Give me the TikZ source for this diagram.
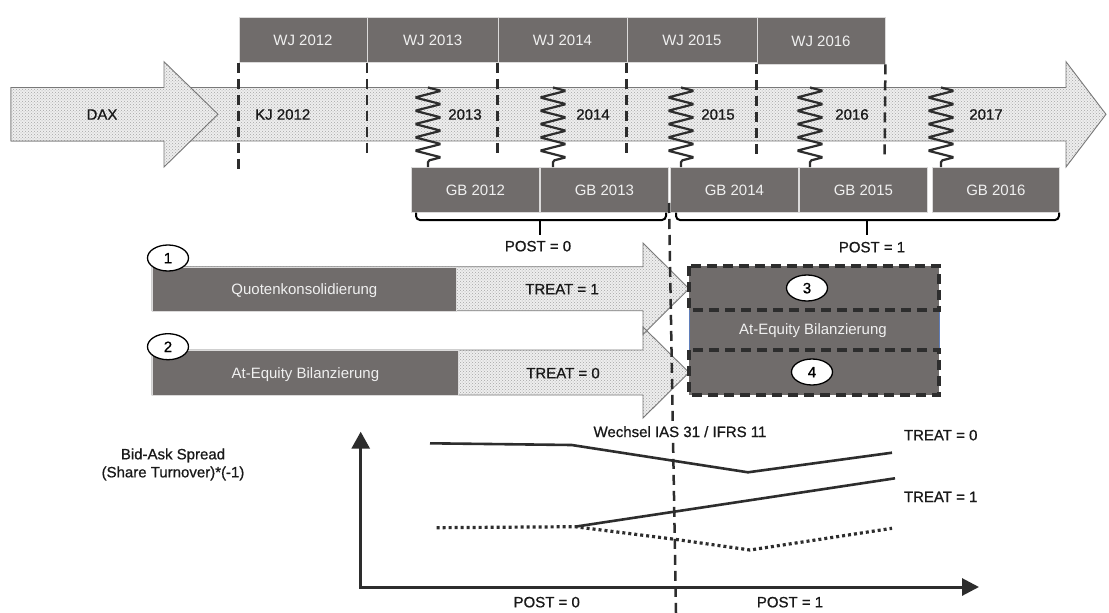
\documentclass[tikz,border=0pt]{standalone}
\usepackage{fontspec}
\setmainfont{Liberation Sans}
\newfontfamily\heavyfont[FakeBold=0.8]{Liberation Sans}
\usetikzlibrary{patterns,decorations.pathmorphing,arrows.meta,shapes.geometric}
\definecolor{boxgray}{RGB}{112,108,107}
\definecolor{darkline}{RGB}{45,45,45}
\definecolor{patbg}{RGB}{238,238,238}
\definecolor{patdot}{RGB}{165,165,165}
\definecolor{outl}{RGB}{120,120,120}
\definecolor{boxtext}{RGB}{240,240,240}
\definecolor{edgeblue}{RGB}{95,125,185}
\definecolor{txt}{RGB}{25,25,25}
\begin{document}
\begin{tikzpicture}[x=1pt,y=-1pt,
 every node/.style={font=\fontsize{15}{17}\selectfont, inner sep=0pt, text height=10.7pt, text depth=0pt},
 darkbox/.style={fill=boxgray, draw=white!75!boxgray, line width=0.8pt, text=boxtext, anchor=north west},
 dotfill/.style={fill=patbg, postaction={pattern=crosshatch dots, pattern color=patdot}},
 outline/.style={draw=outl, line width=0.9pt},
 vdash/.style={draw=darkline, line width=2.5pt, dash pattern=on 10pt off 6pt},
 spring/.style={draw=darkline, line width=2.2pt, decorate, decoration={zigzag, segment length=13.3pt, amplitude=13pt}, rounded corners=1.5pt},
 brace/.style={draw=black, line width=2pt, rounded corners=4pt},
 marker/.style={ellipse, draw=black, fill=white, line width=1.3pt, minimum width=41pt, minimum height=26pt, text=black, font=\fontsize{15}{17}\heavyfont},
 curve/.style={draw=darkline, line width=2.6pt},
 dotcurve/.style={draw=darkline, line width=3.2pt, dash pattern=on 3pt off 3pt},
 axis/.style={draw=darkline, line width=3pt},
 lbl/.style={text=txt, font=\fontsize{15}{17}\heavyfont},
 dashbox/.style={draw=darkline, line width=4pt, dash pattern=on 10pt off 6pt}
]
\useasboundingbox (0,0) rectangle (1109,613);
\fill[white] (0,0) rectangle (1109,613);

% ---- timeline band arrow
\path[dotfill] (11,87.5) -- (1066,87.5) -- (1066,61.7) -- (1106,114.3) -- (1066,167) -- (1066,141) -- (11,141) -- cycle;
\draw[outline] (11,87.5) -- (1066,87.5) -- (1066,61.7) -- (1106,114.3) -- (1066,167) -- (1066,141) -- (11,141) -- cycle;
% ---- DAX arrow
\path[dotfill] (11,87.5) -- (164,87.5) -- (164,61.7) -- (218,114.3) -- (164,167) -- (164,141) -- (11,141) -- cycle;
\draw[outline] (11,87.5) -- (164,87.5) -- (164,61.7) -- (218,114.3) -- (164,167) -- (164,141) -- (11,141) -- cycle;
\node[lbl] (dax) at (102,114.3) {DAX};

% ---- WJ boxes
\node[darkbox, minimum width=128pt, minimum height=45pt] (wj12) at (238.6,17) {WJ 2012};
\node[darkbox, minimum width=130.5pt, minimum height=45pt] (wj13) at (367,17) {WJ 2013};
\node[darkbox, minimum width=129pt, minimum height=45pt] (wj14) at (497.5,17) {WJ 2014};
\node[darkbox, minimum width=130pt, minimum height=45pt] (wj15) at (626.5,17) {WJ 2015};
\node[darkbox, minimum width=128pt, minimum height=46.5pt] (wj16) at (756.6,17) {WJ 2016};

% ---- dashed period separators
\draw[vdash] (wj12.south west) -- (238.6,170);
\draw[vdash] (wj13.south west) -- (367,157);
\draw[vdash] (wj14.south west) -- (497.5,157);
\draw[vdash] (wj15.south west) -- (626.5,157);
\draw[vdash] (wj16.south west) -- (756.6,157);
\draw[vdash] (wj16.south east) -- (884.6,157);

% ---- GB boxes
\node[darkbox, minimum width=128pt, minimum height=45pt] (gb12) at (411,167) {GB 2012};
\node[darkbox, minimum width=128pt, minimum height=45pt] (gb13) at (540,167) {GB 2013};
\node[darkbox, minimum width=128pt, minimum height=45pt] (gb14) at (670,167) {GB 2014};
\node[darkbox, minimum width=128pt, minimum height=45pt] (gb15) at (799,167) {GB 2015};
\node[darkbox, minimum width=127pt, minimum height=45pt] (gb16) at (932,167) {GB 2016};

% ---- springs
\coordinate (s13) at (428,87.5);
\coordinate (s14) at (553,87.5);
\coordinate (s15) at (681,87.5);
\coordinate (s16) at (810,87.5);
\coordinate (s17) at (941,87.5);
\draw[spring] (s13) -- (428,167);
\draw[spring] (s14) -- (553,167);
\draw[spring] (s15) -- (681,167);
\draw[spring] (s16) -- (810,167);
\draw[spring] (s17) -- (941,167);

\node[lbl, anchor=west] (kj12) at (255,114.3) {KJ 2012};
\node[lbl] (y13) at (465,114.3) {2013};
\node[lbl] (y14) at (593,114.3) {2014};
\node[lbl] (y15) at (718,114.3) {2015};
\node[lbl] (y16) at (852,114.3) {2016};
\node[lbl] (y17) at (986,114.3) {2017};

% ---- braces
\draw[brace] (416,212.5) -- (416,220) -- (666,220) -- (666,212.5);
\draw[draw=black, line width=2pt] (540,220) -- (540,235);
\node[lbl] (post0top) at (538,246) {POST = 0};
\draw[brace] (676,212.5) -- (676,220) -- (1059,220) -- (1059,212.5);
\draw[draw=black, line width=2pt] (867,220) -- (867,235);
\node[lbl] (post1top) at (872,247) {POST = 1};

% ---- treatment arrows
\path[dotfill] (152,350) -- (643,350) -- (643,327) -- (689,372.5) -- (643,418) -- (643,395) -- (152,395) -- cycle;
\path[dotfill] (152,266.7) -- (643,266.7) -- (643,243) -- (689,288.7) -- (643,334.4) -- (643,310.7) -- (152,310.7) -- cycle;
\draw[outline] (152,350) -- (643,350) -- (643,327) -- (689,372.5) -- (643,418) -- (643,395) -- (152,395) -- cycle;
\draw[outline] (152,266.7) -- (643,266.7) -- (643,243) -- (689,288.7) -- (643,334.4) -- (643,310.7) -- (152,310.7) -- cycle;
\node[darkbox, minimum width=304pt, minimum height=44pt] (quote) at (152,266.7) {Quotenkonsolidierung};
\node[darkbox, minimum width=306pt, minimum height=45pt] (equity) at (152,350) {At-Equity Bilanzierung};
\node[lbl] (treat1) at (562,289) {TREAT = 1};
\node[lbl] (treat0) at (563,373) {TREAT = 0};
\node[marker] (m1) at (168,258) {1};
\node[marker] (m2) at (168,346.7) {2};

% ---- result box
\node[fill=boxgray, anchor=north west, minimum width=250pt, minimum height=129pt] (res) at (689,266) {};
\draw[edgeblue, line width=0.8pt] (689,310) -- (689,350) (939,310) -- (939,350);
\draw[dashbox] (689,266) rectangle (939,310);
\draw[dashbox] (689,350) rectangle (939,395);
\node[text=boxtext] (resl) at (813,329.5) {At-Equity Bilanzierung};
\node[marker] (m3) at (807,288) {3};
\node[marker] (m4) at (812,372) {4};

% ---- change line
\coordinate (chgtop) at (669,203);
\coordinate (chgbot) at (676,613);
\draw[vdash] (chgtop) -- (chgbot);
\node[lbl, fill=white, inner xsep=2pt, inner ysep=5pt] (wechsel) at (680,431.7) {Wechsel IAS 31 / IFRS 11};

% ---- chart
\coordinate (ytip) at (360.7,431.7);
\coordinate (orig) at (360.7,587);
\coordinate (xtip) at (979,587);
\draw[axis, {Triangle[length=17pt,width=18pt]}-{Triangle[length=17pt,width=17pt]}] (ytip) -- (orig) -- (xtip);
\node[lbl] (bas1) at (173,454) {Bid-Ask Spread};
\node[lbl] (bas2) at (173,472) {(Share Turnover)*(-1)};

\coordinate (a1) at (430,443.3);
\coordinate (a2) at (571.7,445);
\coordinate (a3) at (748,472.3);
\coordinate (a4) at (892,452.7);
\draw[curve] (a1) -- (a2) -- (a3) -- (a4);
\coordinate (b1) at (575,526.7);
\coordinate (b2) at (895,478.3);
\draw[curve] (b1) -- (b2);
\coordinate (c1) at (436.7,527.7);
\coordinate (c3) at (675,539.3);
\coordinate (c4) at (750,550);
\coordinate (c5) at (892,528.3);
\draw[dotcurve] (c1) -- (b1) -- (c3) -- (c4) -- (c5);

\node[lbl] (t0) at (940.7,435) {TREAT = 0};
\node[lbl] (t1) at (940.7,496.7) {TREAT = 1};
\node[lbl] (p0) at (546.7,602) {POST = 0};
\node[lbl] (p1) at (790,602) {POST = 1};
\end{tikzpicture}
\end{document}
